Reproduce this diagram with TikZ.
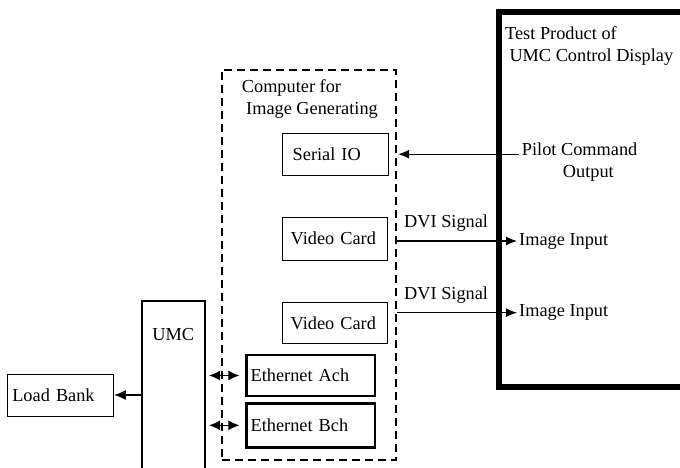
\documentclass[tikz,border=0pt]{standalone}
\usepackage{fontspec}
\setmainfont{Liberation Serif}
\usepackage{tikz}
\usetikzlibrary{arrows.meta,positioning}

\tikzset{
  thinbox/.style={draw, line width=1pt, align=left, inner ysep=0pt},
  thickbox/.style={draw, line width=2.4pt, align=left, inner ysep=0pt},
  plain/.style={inner xsep=0pt, inner ysep=0pt, align=left},
  sig/.style={line width=1.1pt, -{Latex[length=11pt,width=9pt]}},
  twoway/.style={line width=1.4pt, {Latex[length=11pt,width=10pt]}-{Latex[length=11pt,width=10pt]}},
}

\begin{document}
\begin{tikzpicture}[x=1pt, y=-1pt, font=\fontsize{18.3}{22}\selectfont]
\useasboundingbox (0,0) rectangle (680,468);
\clip (0,0) rectangle (680,468);

% Test product (runs off the right edge)
\node[draw, line width=6pt, minimum width=206.5pt, minimum height=374.5pt] (product) at (601.75,199.75) {};
\node[plain, anchor=west] (producttext) at (505,46) {Test Product of\\\hspace{4.3pt}UMC Control Display};

% Computer for image generating
\node[draw, line width=2.3pt, dash pattern=on 8pt off 5pt, minimum width=174.3pt, minimum height=390pt] (computer) at (308.85,265) {};
\node[plain, anchor=west] (computertext) at (241.7,99) {Computer for\\\hspace{4.3pt}Image Generating};

% Cards inside the computer
\node[thinbox, inner xsep=10pt, text width=85.6pt, minimum height=41.7pt] (serial) at (335.5,154.2) {Serial IO};
\node[thinbox, inner xsep=8pt, text width=89.3pt, minimum height=43pt] (video1) at (335.3,238.5) {Video Card};
\node[thinbox, inner xsep=8pt, text width=89.3pt, minimum height=41.3pt] (video2) at (335.3,323.3) {Video Card};
\node[thickbox, inner xsep=4pt, text width=120.3pt, minimum height=41pt] (etha) at (310.8,375.5) {Ethernet Ach};
\node[thickbox, inner xsep=4pt, text width=120.3pt, minimum height=44pt] (ethb) at (310.8,425.3) {Ethernet Bch};

% UMC and load bank
\node[thickbox, line width=2.2pt, minimum width=63.3pt, minimum height=179.3pt] (umc) at (173.3,390.3) {};
\node[plain] (umctext) at (173.3,335) {UMC};
\node[thinbox, inner xsep=5pt, text width=96pt, minimum height=42pt] (load) at (60.3,395) {Load Bank};

% Signal labels
\node[plain, inner xsep=3pt, anchor=west] (pilot) at (518.7,162.2) {Pilot Command\\\hspace{41pt}Output};
\node[plain, anchor=west] (dvi1) at (404,222.7) {DVI Signal};
\node[plain, anchor=west] (dvi2) at (404,295) {DVI Signal};
\node[plain, inner xsep=2pt, anchor=west] (img1) at (517,241) {Image Input};
\node[plain, inner xsep=2pt, anchor=west] (img2) at (517,312.7) {Image Input};

% Connections
\draw[sig] (pilot.west |- serial.east) -- ([xshift=1pt]computer.east |- serial.east);
\draw[sig] (computer.east |- img1.west) -- (img1.west);
\draw[sig] (computer.east |- img2.west) -- (img2.west);
\draw[line width=2pt, -{Latex[length=12pt,width=10pt]}] (umc.west |- load.east) -- (load.east);
\draw[twoway, shorten <=3pt, shorten >=6pt] (umc.east |- etha.west) -- (etha.west);
\draw[twoway, shorten <=3pt, shorten >=6pt] (umc.east |- ethb.west) -- (ethb.west);
\end{tikzpicture}
\end{document}
